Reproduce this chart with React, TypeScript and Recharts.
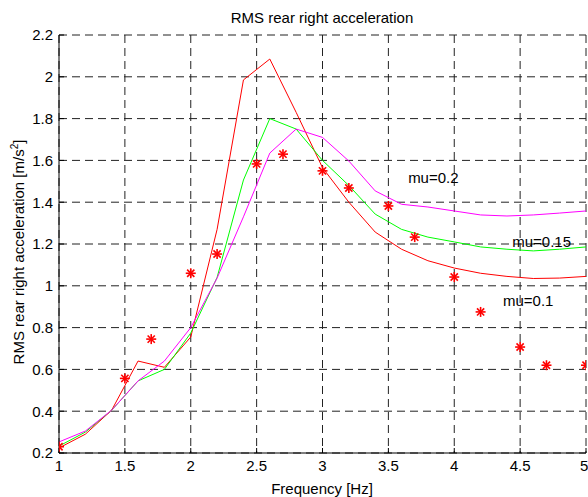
import React from 'react';
import { ComposedChart, Line, Scatter, XAxis, YAxis, CartesianGrid, Label } from 'recharts';

// simulated response, one value per 0.2 Hz step
const freq = [1, 1.2, 1.4, 1.6, 1.8, 2, 2.2, 2.4, 2.6, 2.8, 3, 3.2, 3.4, 3.6, 3.8, 4, 4.2, 4.4, 4.6, 4.8, 5];
const mu01 = [0.224, 0.29, 0.405, 0.64, 0.61, 0.755, 1.27, 1.985, 2.085, 1.83, 1.565, 1.4, 1.257, 1.175, 1.12, 1.085, 1.06, 1.045, 1.035, 1.037, 1.045];
const mu015 = [0.233, 0.3, 0.405, 0.545, 0.6, 0.774, 1.04, 1.506, 1.8, 1.75, 1.6, 1.48, 1.343, 1.27, 1.233, 1.21, 1.186, 1.175, 1.167, 1.175, 1.186];
const mu02 = [0.253, 0.305, 0.405, 0.545, 0.64, 0.8, 1.037, 1.33, 1.635, 1.75, 1.71, 1.597, 1.454, 1.39, 1.377, 1.358, 1.339, 1.334, 1.339, 1.348, 1.358];

// measured points
const measFreq = [1, 1.5, 1.7, 2, 2.2, 2.5, 2.7, 3, 3.2, 3.5, 3.7, 4, 4.2, 4.5, 4.7, 5];
const measVals = [0.23, 0.557, 0.745, 1.06, 1.152, 1.583, 1.63, 1.55, 1.468, 1.382, 1.233, 1.042, 0.875, 0.707, 0.62, 0.62];

// curve labels
const noteText = ['mu=0.2', 'mu=0.15', 'mu=0.1'];
const noteFreq = [3.65, 4.44, 4.37];
const noteVals = [1.516, 1.212, 0.93];

const xTicks = [1, 1.5, 2, 2.5, 3, 3.5, 4, 4.5, 5];
const yTicks = [0.2, 0.4, 0.6, 0.8, 1, 1.2, 1.4, 1.6, 1.8, 2, 2.2];

const FONT = '"Liberation Sans", Arial, Helvetica, sans-serif';
const FS = 15;

const table = freq.map((f, i) => ({ f, mu01: mu01[i], mu015: mu015[i], mu02: mu02[i] }));
const measured = measFreq.map((f, i) => ({ f, v: measVals[i] }));
const notes = noteText.map((t, i) => ({ f: noteFreq[i], v: noteVals[i], t }));

const fmt = (v: number) => String(Math.round(v * 10) / 10);

const Star = (props: any) => {
    const { cx, cy } = props;
    const r = 5;
    const d = 3.6;
    return (
        <g stroke="#ff0000" strokeWidth={1.6}>
            <line x1={cx - r} y1={cy} x2={cx + r} y2={cy} />
            <line x1={cx} y1={cy - r} x2={cx} y2={cy + r} />
            <line x1={cx - d} y1={cy - d} x2={cx + d} y2={cy + d} />
            <line x1={cx - d} y1={cy + d} x2={cx + d} y2={cy - d} />
        </g>
    );
};

const Note = (props: any) => (
    <text x={props.cx} y={props.cy} dy="0.35em" fontSize={FS} fontFamily={FONT} fill="#000">
        {props.payload.t}
    </text>
);

const tickStyle = { fontSize: FS, fontFamily: FONT, fill: '#000' };

export default function App() {
    return (
        <div style={{ position: 'absolute', left: 0, top: 0, width: 588, height: 497, background: '#fff' }}>
            <ComposedChart width={588} height={497} data={table} margin={{ top: 35, right: 2, bottom: 0, left: 0 }}>
                <CartesianGrid strokeDasharray="8 5" stroke="#222" />
                <XAxis
                    dataKey="f"
                    type="number"
                    domain={[1, 5]}
                    ticks={xTicks}
                    tickFormatter={fmt}
                    allowDataOverflow
                    height={44}
                    tickSize={-5}
                    tickMargin={12}
                    tick={tickStyle}
                    stroke="#000"
                >
                    <Label
                        content={() => (
                            <text x={322} y={494} textAnchor="middle" fontSize={FS} fontFamily={FONT} fill="#000">
                                Frequency [Hz]
                            </text>
                        )}
                    />
                </XAxis>
                <XAxis
                    xAxisId="top"
                    orientation="top"
                    dataKey="f"
                    type="number"
                    domain={[1, 5]}
                    ticks={xTicks}
                    height={0}
                    tickSize={-5}
                    tick={false}
                    stroke="#000"
                />
                <YAxis
                    type="number"
                    domain={[0.2, 2.2]}
                    ticks={yTicks}
                    tickFormatter={fmt}
                    allowDataOverflow
                    width={59}
                    tickSize={-5}
                    tickMargin={11}
                    tick={tickStyle}
                    stroke="#000"
                >
                    <Label
                        content={() => (
                            <text
                                x={24}
                                y={252}
                                transform="rotate(-90, 24, 252)"
                                textAnchor="middle"
                                fontSize={FS}
                                fontFamily={FONT}
                                fill="#000"
                            >
                                <tspan>RMS rear right acceleration [m/s</tspan>
                                <tspan dy={-6} fontSize={10}>2</tspan>
                                <tspan dy={6}>]</tspan>
                            </text>
                        )}
                    />
                    <Label
                        content={() => (
                            <text x={322} y={23} textAnchor="middle" fontSize={FS} fontFamily={FONT} fill="#000">
                                RMS rear right acceleration
                            </text>
                        )}
                    />
                </YAxis>
                <YAxis
                    yAxisId="right"
                    orientation="right"
                    type="number"
                    domain={[0.2, 2.2]}
                    ticks={yTicks}
                    width={0}
                    tickSize={-5}
                    tick={false}
                    stroke="#000"
                />
                <Line dataKey="mu01" stroke="#ff0000" strokeWidth={1} dot={false} isAnimationActive={false} />
                <Line dataKey="mu015" stroke="#00ff00" strokeWidth={1} dot={false} isAnimationActive={false} />
                <Line dataKey="mu02" stroke="#ff00ff" strokeWidth={1} dot={false} isAnimationActive={false} />
                <Scatter data={measured} dataKey="v" shape={Star} isAnimationActive={false} />
                <Scatter data={notes} dataKey="v" shape={Note} isAnimationActive={false} />
            </ComposedChart>
        </div>
    );
}
